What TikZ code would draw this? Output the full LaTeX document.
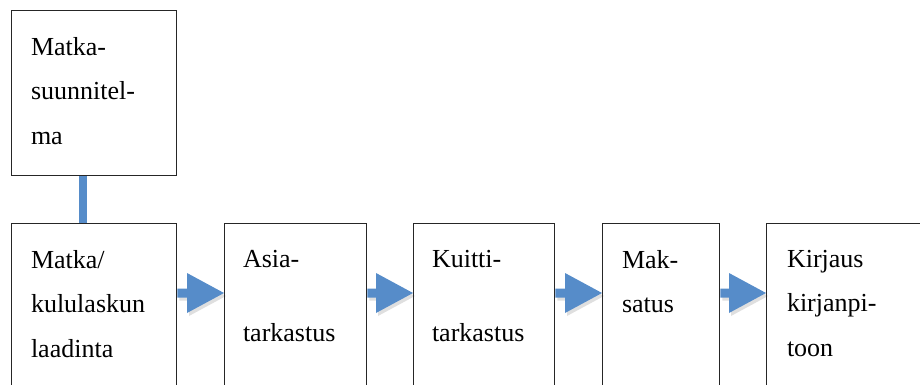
\documentclass[tikz,border=0pt]{standalone}
\usepackage{fontspec}
\setmainfont{Liberation Serif}
\usetikzlibrary{positioning, calc, shadows, backgrounds}

\definecolor{flowblue}{RGB}{86,140,201}

\begin{document}
\begin{tikzpicture}[x=1pt, y=-1pt]
		\tikzstyle{box}=[rectangle, draw=black!85, line width=1.3pt, minimum height=200pt, anchor=north west, inner sep=0pt]
		\tikzstyle{txt}=[align=left, inner sep=0pt, outer sep=0pt, font=\fontsize{26}{44.5}\selectfont]
		\tikzstyle{link}=[draw=flowblue, line width=8pt]
		\tikzstyle{flow}=[fill=flowblue, drop shadow={shadow xshift=2pt, shadow yshift=-3pt, opacity=0.25},
			to path={($(\tikztostart)+(0,-4.5)$) -- ($(\tikztotarget)+(-37,-4.5)$) -- ($(\tikztotarget)+(-37,-20)$)
				-- (\tikztotarget) -- ($(\tikztotarget)+(-37,20)$) -- ($(\tikztotarget)+(-37,4.5)$)
				-- ($(\tikztostart)+(0,4.5)$) -- cycle}]

		\useasboundingbox (0,0) rectangle (920,385);
		\clip (0,0) rectangle (920,385);

		\node[box, minimum width=165pt, minimum height=165pt] (plan) at (11,10) {};
		\node[box, minimum width=165pt] (laadinta) at (11,223) {};
		\node[box, minimum width=142pt] (asia) at (224,223) {};
		\node[box, minimum width=141pt] (kuitti) at (413,223) {};
		\node[box, minimum width=117pt] (maksatus) at (602,223) {};
		\node[box, minimum width=200pt] (kirjaus) at (766,223) {};

		\node[txt, below right=27pt and 20pt of plan.north west] (plantxt) {
			Matka-\\suunnitel-\\ma
		};
		\node[txt, below right=27pt and 20pt of laadinta.north west] (laadintatxt) {
			Matka/\\kululaskun\\laadinta
		};
		\node[txt, below right=27pt and 19pt of asia.north west] (asiatxt) {
			Asia-\\[29.5pt]tarkastus
		};
		\node[txt, below right=27pt and 19pt of kuitti.north west] (kuittitxt) {
			Kuitti-\\[29.5pt]tarkastus
		};
		\node[txt, below right=27pt and 20pt of maksatus.north west] (maksatustxt) {
			Mak-\\satus
		};
		\node[txt, below right=27pt and 21pt of kirjaus.north west] (kirjaustxt) {
			Kirjaus\\kirjanpi-\\toon
		};

		\begin{scope}[on background layer]
			\draw[link] ($(plan.south west)+(72,0)$) -- ($(laadinta.north west)+(72,0)$);
			\path[flow] ($(laadinta.north east)+(0,70)$) to ($(asia.north west)+(0,70)$);
			\path[flow] ($(asia.north east)+(0,70)$) to ($(kuitti.north west)+(0,70)$);
			\path[flow] ($(kuitti.north east)+(0,70)$) to ($(maksatus.north west)+(0,70)$);
			\path[flow] ($(maksatus.north east)+(0,70)$) to ($(kirjaus.north west)+(0,70)$);
		\end{scope}

	\end{tikzpicture}
\end{document}
